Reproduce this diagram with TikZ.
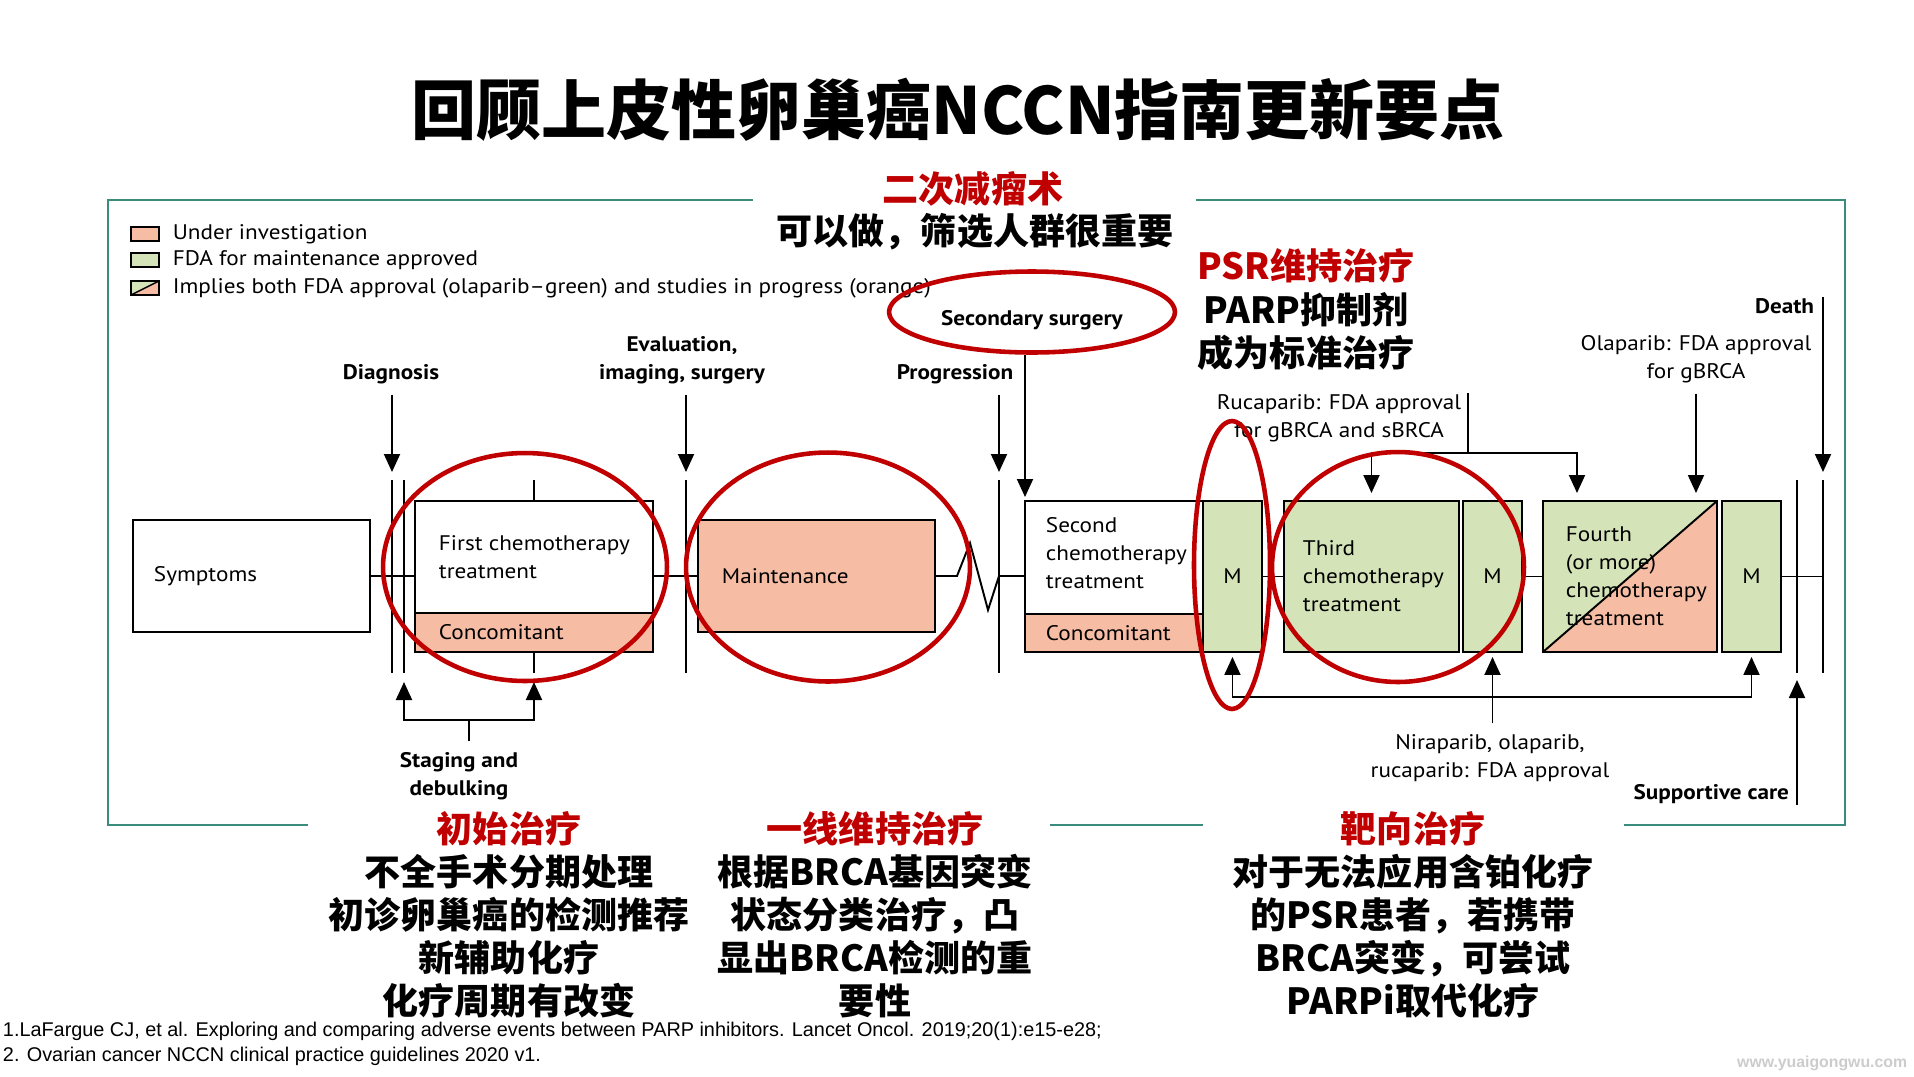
\documentclass[tikz,border=0pt]{standalone}
\usepackage{fontspec}
\setmainfont{PT Sans}[FakeStretch=1.1]
\newfontfamily\cjk{Noto Sans CJK SC}
\newfontfamily\reffont{Liberation Sans}
\usetikzlibrary{arrows.meta, positioning, shapes.geometric, calc}
\definecolor{cred}{HTML}{C00000}
\definecolor{corange}{HTML}{F6BCA4}
\definecolor{cgreen}{HTML}{D5E4B8}
\definecolor{cteal}{HTML}{3A8C7C}
\newcommand\bodyfont{\fontsize{12}{15.9}\selectfont}
\newcommand\cnfont{\cjk\bfseries\fontsize{20.5}{24.4}\selectfont}
\newcommand\titlefont{\cjk\bfseries\fontsize{37}{44}\selectfont}
\newcommand\notefont{\reffont\fontsize{11.3}{13}\selectfont}
\tikzset{
  every picture/.style={line width=1.1pt},
  box/.style={draw, fill=#1, line width=1.3pt, inner sep=0pt, outer sep=0pt, anchor=north west, font=\bodyfont},
  box/.default=white,
  txt/.style={inner sep=0pt, anchor=west, align=left, font=\bodyfont},
  lbl/.style={inner xsep=0pt, inner ysep=0.2cm, align=center, font=\bodyfont\bfseries},
  note/.style={lbl, font=\bodyfont},
  arr/.style={-{Triangle[length=0.36cm, width=0.32cm]}, line width=1.1pt},
  ring/.style={ellipse, draw=cred, line width=2.6pt, inner sep=0pt},
  frame/.style={draw=cteal, line width=1.1pt},
  cn/.style={font=\cnfont, align=center, inner sep=0pt},
  legbox/.style={draw, fill=#1, line width=1pt, minimum width=0.56cm, minimum height=0.28cm, inner sep=0pt},
  split/.style={path picture={
    \fill[corange] (path picture bounding box.south west) -- (path picture bounding box.north east)
      -- (path picture bounding box.south east) -- cycle;
    \draw[line width=#1] (path picture bounding box.south west) -- (path picture bounding box.north east);}},
}

\begin{document}
\begin{tikzpicture}[x=0.02cm, y=-0.02cm]
  \fill[white] (0,0) rectangle (1914,1076);
  \useasboundingbox (0,0) rectangle (1914,1076);

  \node[font=\titlefont] (title) at (958,110) {回顾上皮性卵巢癌NCCN指南更新要点};

  \draw[frame] (753,200) -- (108,200) -- (108,825) -- (308,825);
  \draw[frame] (1050,825) -- (1203,825);
  \draw[frame] (1624,825) -- (1845,825) -- (1845,200) -- (1196,200);

  % legend
  \node[legbox=corange] (l1) at (145,234) {};
  \node[legbox=cgreen] (l2) at (145,260) {};
  \node[legbox=cgreen, split=0.8pt] (l3) at (145,288) {};
  \node[txt, right=0.24cm of l1] (l1t) {Under investigation};
  \node[txt, right=0.24cm of l2] (l2t) {FDA for maintenance approved};
  \node[txt, right=0.24cm of l3] (l3t) {Implies both FDA approval (olaparib--green) and studies in progress (orange)};

  % time bars
  \foreach \x/\n in {392/dga, 404/dgb, 686/ev, 999/pr, 1797/sp, 1823/de}{
    \coordinate (t\n) at (\x,480);
    \coordinate (b\n) at (\x,673);
    \draw (t\n) -- (b\n);
  }

  % boxes
  \node[box, minimum width=4.74cm, minimum height=2.24cm] (sym) at (133,520) {};
  \node[box, minimum width=4.76cm, minimum height=2.24cm] (fc) at (415,501) {};
  \node[box=corange, minimum width=4.76cm, minimum height=0.78cm] (fcc) at (fc.south west) {};
  \node[box=corange, minimum width=4.74cm, minimum height=2.24cm] (mnt) at (698,520) {};
  \node[box, minimum width=3.56cm, minimum height=2.26cm] (sc) at (1025,501) {};
  \node[box=corange, minimum width=3.56cm, minimum height=0.76cm] (scc) at (sc.south west) {};
  \node[box=cgreen, minimum width=1.18cm, minimum height=3.02cm] (m1) at (sc.north east) {M};
  \node[box=cgreen, minimum width=3.5cm, minimum height=3.02cm] (tc) at (1284,501) {};
  \node[box=cgreen, minimum width=1.18cm, minimum height=3.02cm] (m2) at (1463,501) {M};
  \node[box=cgreen, split=1.1pt, minimum width=3.48cm, minimum height=3.02cm] (fo) at (1543,501) {};
  \node[box=cgreen, minimum width=1.18cm, minimum height=3.02cm] (m3) at (1722,501) {M};

  \node[txt, right=0.4cm of sym.west] (symt) {Symptoms};
  \node[txt, right=0.46cm of fc.west] (fct) {First chemotherapy\\treatment};
  \node[txt, right=0.46cm of fcc.west] (fcct) {Concomitant};
  \node[txt, right=0.46cm of mnt.west] (mntt) {Maintenance};
  \node[txt, right=0.4cm of sc.west, yshift=0.08cm] (sct) {Second\\chemotherapy\\treatment};
  \node[txt, right=0.4cm of scc.west] (scct) {Concomitant};
  \node[txt, right=0.36cm of tc.west] (tct) {Third\\chemotherapy\\treatment};
  \node[txt, right=0.44cm of fo.west] (fot) {Fourth\\(or more)\\chemotherapy\\treatment};

  \draw (sym) -- (sym -| fc.west);
  \draw (fc.east |- mnt) -- (mnt);
  \draw (mnt.east) -- (957,576) -- (970,543) -- (988,610) -- (999,576) -- (sc.west |- mnt);
  \draw (m1) -- (tc);
  \draw (m2) -- (fo);
  \draw (m3) -- (m3 -| tde);
  \draw (fc.north) -- (fc.north |- tdga);
  \draw (fcc.south) -- (fcc.south |- bdga);

  % labels
  \node[lbl] (diag) at (391,374) {Diagnosis};
  \node[lbl] (eval) at (682,360) {Evaluation,\\imaging, surgery};
  \node[lbl] (prog) at (955,374) {Progression};
  \node[lbl, anchor=east] (death) at (1815,306) {Death};
  \node[note] (ruca) at (1339,418) {Rucaparib: FDA approval\\for gBRCA and sBRCA};
  \node[note] (olap) at (1696,359) {Olaparib: FDA approval\\for gBRCA};
  \node[note] (nira) at (1490,758) {Niraparib, olaparib,\\rucaparib: FDA approval};
  \node[lbl, anchor=east] (supp) at (1790,794) {Supportive care};
  \node[lbl] (stag) at (459,776) {Staging and\\debulking};
  \node[ring, minimum width=5.72cm, minimum height=1.62cm] (ss) at (1032,312) {};
  \node[lbl, inner ysep=0pt] (sst) at (1032,320) {Secondary surgery};

  \draw[arr, shorten >=0.16cm] (diag.south -| tdga) -- (tdga);
  \draw[arr, shorten >=0.16cm] (eval.south -| tev) -- (tev);
  \draw[arr, shorten >=0.16cm] (prog.south -| tpr) -- (tpr);
  \draw[arr, shorten >=0.16cm] ([yshift=-0.2cm]death.north -| tde) -- (tde);
  \draw[arr, shorten >=0.08cm] (ss.south -| sc.north west) -- (sc.north west);

  \coordinate (rj) at (1468,453);
  \draw ([yshift=-0.2cm]ruca.north -| rj) -- (rj);
  \draw[arr, shorten >=0.16cm] (rj) -| (tc.north);
  \draw[arr, shorten >=0.16cm] (rj) -| ([xshift=0.68cm]fo.north west);
  \draw[arr, shorten >=0.16cm] (olap.south) -- (olap.south |- fo.north);

  \coordinate (sj) at (469,720);
  \draw (stag.north -| sj) -- (sj);
  \draw[arr, shorten >=0.18cm] (sj) -| (bdgb);
  \draw[arr, shorten >=0.18cm] (sj) -| (fcc.south |- bdgb);

  \coordinate (mj) at ([yshift=-0.9cm]m2.south);
  \draw[arr, shorten >=0.1cm] (nira.north -| m2.south) -- (m2.south);
  \draw[arr, shorten >=0.1cm] (mj) -| (m1.south);
  \draw[arr, shorten >=0.1cm] (mj) -| (m3.south);
  \draw[arr, shorten >=0.14cm] ([yshift=0.2cm]supp.south -| bsp) -- (bsp);

  % red marks
  \node[ring, minimum width=5.68cm, minimum height=4.56cm] (r1) at (525,567) {};
  \node[ring, minimum width=5.68cm, minimum height=4.58cm] (r2) at (828,567) {};
  \node[ring, minimum width=1.52cm, minimum height=5.76cm] (r3) at (1232,565) {};
  \node[ring, minimum width=5.04cm, minimum height=4.6cm] (r4) at (1398,567) {};

  \node[cn, text=cred] (ssh) at (973,189) {二次减瘤术};
  \node[cn] (ssn) at (975,232) {可以做，筛选人群很重要};
  \node[cn, text=cred] (psrh) at (1306,266) {PSR维持治疗};
  \node[cn] (psrn) at (1306,331.5) {PARP抑制剂\\成为标准治疗};
  \node[cn, text=cred] (h1) at (509,829) {初始治疗};
  \node[cn] (n1) at (509,936) {不全手术分期处理\\初诊卵巢癌的检测推荐\\新辅助化疗\\化疗周期有改变};
  \node[cn, text=cred] (h2) at (875,829) {一线维持治疗};
  \node[cn] (n2) at (875,936) {根据BRCA基因突变\\状态分类治疗，凸\\显出BRCA检测的重\\要性};
  \node[cn, text=cred] (h3) at (1413,829) {靶向治疗};
  \node[cn] (n3) at (1413,936) {对于无法应用含铂化疗\\的PSR患者，若携带\\BRCA突变，可尝试\\PARPi取代化疗};

  \node[inner sep=0pt, anchor=west, font=\notefont] (fn1) at (2,1031)
    {1.LaFargue CJ, et al. Exploring and comparing adverse events between PARP inhibitors. Lancet Oncol. 2019;20(1):e15-e28;};
  \node[inner sep=0pt, anchor=west, font=\notefont] (fn2) at (2,1056)
    {2. Ovarian cancer NCCN clinical practice guidelines 2020 v1.};
  \node[inner sep=0pt, anchor=east, text=gray!40, font=\reffont\bfseries\fontsize{9}{10}\selectfont] (wm) at (1908,1063)
    {www.yuaigongwu.com};
\end{tikzpicture}
\end{document}
